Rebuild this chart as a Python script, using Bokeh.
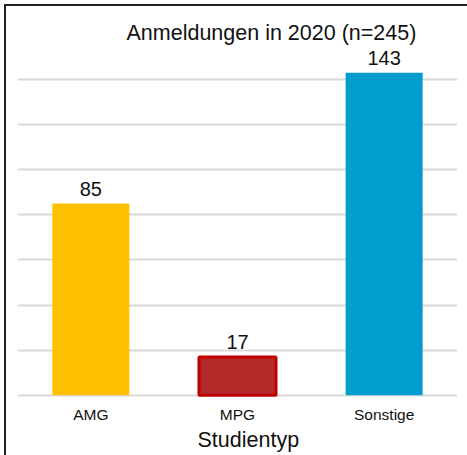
from bokeh.plotting import figure
from bokeh.models import Range1d, FixedTicker, Title, InlineStyleSheet
from bokeh.core.properties import value
from bokeh.embed import file_html
from bokeh.resources import INLINE

# Data
categories = ["AMG", "MPG", "Sonstige"]
counts = [85, 17, 143]
bar_colors = ["#FFC000", "#B22A2A", "#009DCD"]
bar_line_colors = ["#FFC000", "#C00000", "#009DCD"]
bar_line_widths = [0, 3, 0]
y_ticks = [0, 20, 40, 60, 80, 100, 120, 140]
title_text = "Anmeldungen in 2020 (n=245)"
x_label = "Studientyp"

FONT = "Liberation Sans"

p = figure(
    x_range=categories,
    y_range=Range1d(-1, 154.2),
    width=467, height=455,
    output_backend="svg",
    toolbar_location=None,
    min_border_left=17, min_border_right=10,
    min_border_top=47, min_border_bottom=58,
    title=title_text,
)
p.outline_line_color = None
p.background_fill_color = "white"
p.border_fill_color = "white"

# chart frame border (left / top edges inside the window)
p.stylesheets = [InlineStyleSheet(css="""
:host { position: relative; overflow: hidden; }
:host::before {
  content: ""; position: absolute; left: 4px; top: 4px; width: 2px; bottom: 0px;
  background: #222222; pointer-events: none; z-index: 10;
}
:host::after {
  content: ""; position: absolute; left: 4px; top: 4px; right: 0px; height: 2px;
  background: #222222; pointer-events: none; z-index: 10;
}
""")]

# Title
p.title.text_font = FONT
p.title.text_font_size = "21.5px"
p.title.text_font_style = "normal"
p.title.text_color = "#111111"
p.title.align = "left"
p.title.offset = 109
p.title.standoff = 5

# Bars
src = dict(x=categories, top=counts, fill=bar_colors, line=bar_line_colors, lw=bar_line_widths,
           label=[str(c) for c in counts])
p.vbar(x="x", top="top", bottom=0, width=0.525, source=src,
       fill_color="fill", line_color="line", line_width="lw")

# Value labels
p.text(x="x", y="top", text="label", source=src,
       text_font=value(FONT), text_font_size="20px", text_color="#111111",
       text_align="center", text_baseline="middle", y_offset=-15)

# Axes
p.yaxis.visible = False
p.yaxis.ticker = FixedTicker(ticks=y_ticks)
p.ygrid.ticker = FixedTicker(ticks=y_ticks)
p.ygrid.grid_line_color = "#D9D9D9"
p.ygrid.grid_line_width = 2
p.xgrid.visible = False

xa = p.xaxis[0]
xa.axis_line_color = None
xa.major_tick_line_color = None
xa.minor_tick_line_color = None
xa.major_tick_out = 0
xa.major_tick_in = 0
xa.major_label_standoff = 8
xa.major_label_text_font = FONT
xa.major_label_text_font_size = "15.5px"
xa.major_label_text_color = "#111111"

# x-axis title, a little right of the plot centre as in the original
xtitle = Title(text=x_label, align="left", offset=180, standoff=0,
               vertical_align="bottom",
               text_font=FONT, text_font_size="21.5px", text_font_style="normal",
               text_color="#111111")
p.add_layout(xtitle, "below")

open("out.html", "w").write(file_html(p, INLINE))
